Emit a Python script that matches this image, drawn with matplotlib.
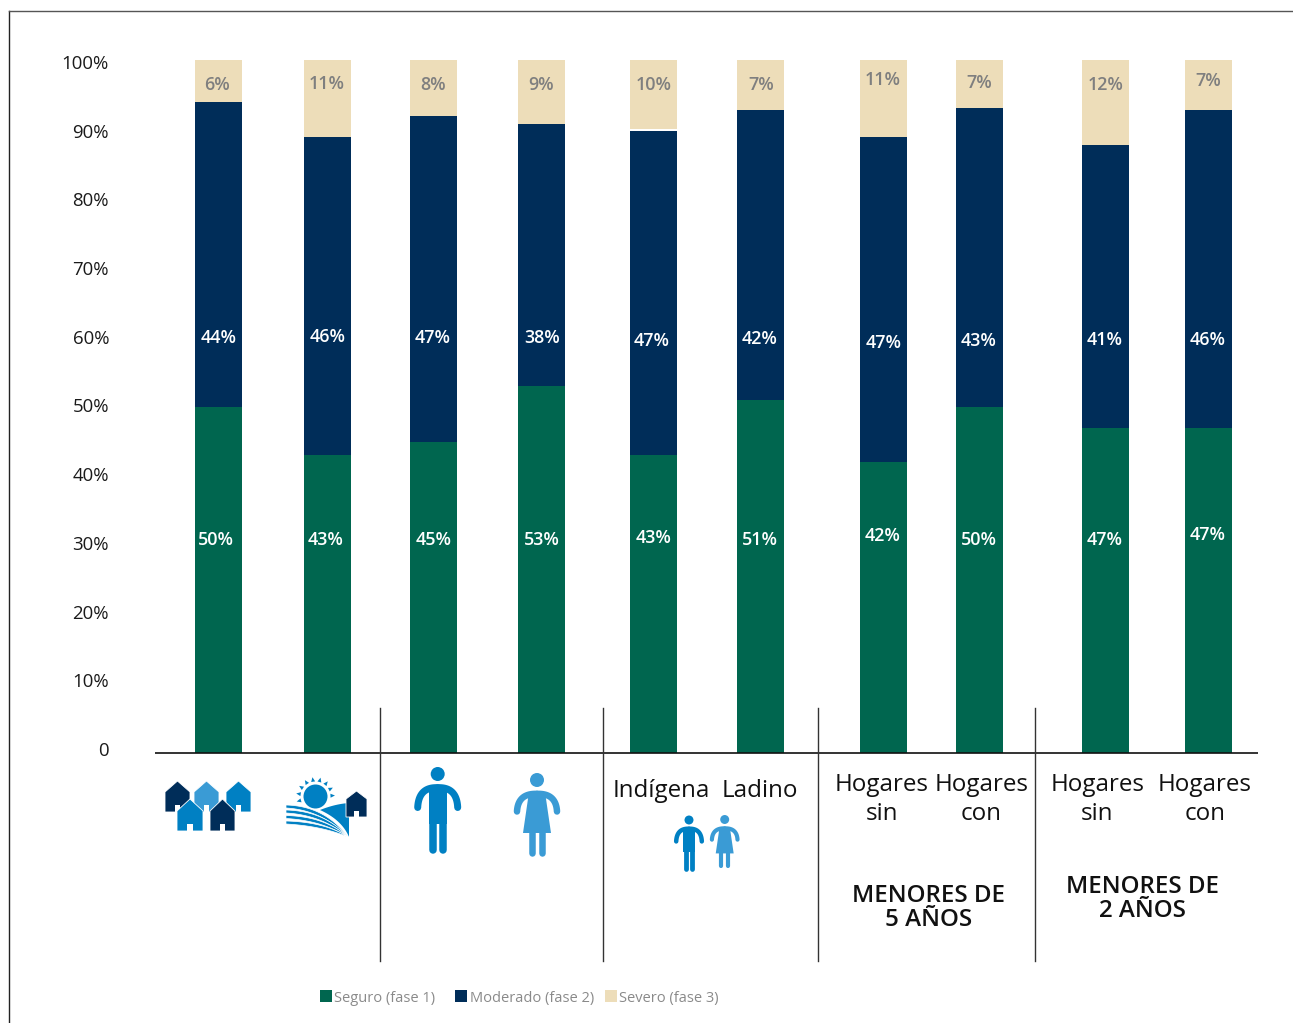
import numpy as np
import matplotlib
matplotlib.use("Agg")
import matplotlib.pyplot as plt
from matplotlib.patches import Polygon, Circle, Rectangle

plt.rcParams['font.family'] = ['Open Sans', 'DejaVu Sans']

# ---- data ----
seguro = [49.9, 43.0, 44.9, 53.0, 43.0, 50.9, 42.0, 49.9, 46.9, 46.9]
moderado = [44.0, 45.9, 47.0, 37.8, 46.7, 41.9, 46.9, 43.2, 40.8, 45.9]
severo = [6.1, 11.1, 8.1, 9.2, 10.0, 7.2, 11.1, 6.9, 12.3, 7.2]
series_names = ['Seguro (fase 1)', 'Moderado (fase 2)', 'Severo (fase 3)']
y_labels = ['0', '10%', '20%', '30%', '40%', '50%', '60%', '70%', '80%', '90%', '100%']

# ---- layout ----
W, H = 1293, 1023
GREEN, NAVY, TAN = '#00664F', '#002D59', '#EDDDB9'
BLUE, LIGHT = '#0080C3', '#3A9BD5'
bar_x = np.array([218.5, 327.5, 433.5, 541.5, 653.5, 760.5, 883.5, 979.5, 1105.5, 1208.5])
seguro_y = [539, 539, 539, 539, 537, 539, 535, 539, 539, 534]
moderado_y = [337, 336, 337, 337, 340, 338, 342, 340, 339, 339]
severo_y = [84, 83, 84, 84, 84, 84, 79, 82, 84, 80]
seguro_x = [215.5, 326, 433.5, 542, 654, 760, 883, 979, 1105, 1208]
moderado_x = [219, 327.5, 432.5, 542, 652, 759.5, 884, 979, 1105, 1208]
severo_x = [217, 326.5, 433, 541.5, 653.5, 761, 883, 979, 1105.5, 1208.5]
TXT = 2  # vertical text nudge, pixels

fig = plt.figure(figsize=(W / 100, H / 100), dpi=100, facecolor='white')
L, R, T, B = 155, 1258, 60, 753
ax = fig.add_axes([L / W, 1 - B / H, (R - L) / W, (B - T) / H])
ax.set_xlim(L, R)
ax.set_ylim(0, 100)
s, m, v = np.array(seguro), np.array(moderado), np.array(severo)
ax.bar(bar_x, s, width=47, color=GREEN)
ax.bar(bar_x, m, width=47, bottom=s, color=NAVY)
ax.bar(bar_x, v, width=47, bottom=100 - v, color=TAN)
for side in ['top', 'left', 'right']:
    ax.spines[side].set_visible(False)
ax.spines['bottom'].set_linewidth(1.2)
ax.spines['bottom'].set_color('#111111')
ax.spines['bottom'].set_capstyle('butt')
ax.set_xticks([])
ax.set_yticks([])

# overlay in pixel coordinates
ov = fig.add_axes([0, 0, 1, 1], zorder=5)
ov.set_xlim(0, W)
ov.set_ylim(H, 0)
ov.axis('off')
ov.patch.set_alpha(0)

# frame and separators
ov.plot([9, 9], [11, H], color='#222222', lw=1)
ov.plot([9, W], [11, 11], color='#555555', lw=1)
for x in [380, 603, 817.5, 1035]:
    ov.plot([x, x], [708, 961], color='#333333', lw=1)

# y labels
for i, lab in enumerate(y_labels):
    ov.text(109, 749 + TXT - i * 68.7, lab, ha='right', va='center', fontsize=13.4, color='#1a1a1a')

# value labels
for i in range(len(seguro)):
    ov.text(seguro_x[i], seguro_y[i] + 1, f'{round(seguro[i])}%', ha='center', va='center',
            color='white', fontsize=12.9, fontweight='semibold')
    ov.text(moderado_x[i], moderado_y[i] + 1, f'{round(moderado[i])}%', ha='center', va='center',
            color='white', fontsize=12.9, fontweight='semibold')
    ov.text(severo_x[i], severo_y[i] + 1, f'{round(severo[i])}%', ha='center', va='center',
            color='#7f7f7f', fontsize=12.9, fontweight='semibold')

# category text
for x, y, t in [(661, 789, 'Indígena'), (759.5, 789, 'Ladino'),
                (882, 783, 'Hogares'), (882, 812, 'sin'),
                (981.5, 783, 'Hogares'), (981.5, 812, 'con'),
                (1097.5, 783, 'Hogares'), (1097, 812, 'sin'),
                (1205, 783, 'Hogares'), (1205, 812, 'con')]:
    ov.text(x, y + TXT, t, ha='center', va='center', fontsize=17.4, color='#111111')
for x, y, t in [(929, 893, 'MENORES DE'), (929, 917, '5 AÑOS'),
                (1142, 884, 'MENORES DE'), (1142, 908, '2 AÑOS')]:
    ov.text(x, y + 3, t, ha='center', va='center', fontsize=17.4, fontweight='semibold', color='#111111')

# legend
for x, tx, c, n in [(320, 334.5, GREEN, series_names[0]), (455, 469.5, NAVY, series_names[1]),
                    (605, 619, TAN, series_names[2])]:
    ov.add_patch(Rectangle((x, 990), 12, 12, color=c, lw=0))
    ov.text(tx, 996.5 + TXT, n, ha='left', va='center', fontsize=10.5, color='#8a8a8a')


# icons
def house(x0, x1, top, eave, bottom, color, z=6):
    cx = (x0 + x1) / 2
    ov.add_patch(Polygon([(x0, bottom), (x0, eave), (cx, top), (x1, eave), (x1, bottom)],
                         closed=True, fc=color, ec='white', lw=0.6, zorder=z))
    dw = (x1 - x0) * 0.115
    dh = (bottom - top) * 0.23
    ov.add_patch(Rectangle((cx - dw, bottom - dh), 2 * dw, dh + 0.5, fc='white', lw=0, zorder=z))


house(165, 190, 781, 792, 812, NAVY, 6)
house(194, 219, 781, 792, 812, LIGHT, 6)
house(226, 251, 781, 792, 812, BLUE, 6)
house(177, 203, 799, 811, 831, BLUE, 7)
house(210, 235, 799, 811, 831, NAVY, 7)


def bez(p0, p1, p2, n=40):
    t = np.linspace(0, 1, n)[:, None]
    p0, p1, p2 = map(np.array, (p0, p1, p2))
    return (1 - t) ** 2 * p0 + 2 * t * (1 - t) * p1 + t ** 2 * p2


# sun
ov.add_patch(Circle((315.5, 796.5), 12, fc=BLUE, lw=0, zorder=6))
for a in np.arange(-195, 20, 24.0):
    r = np.deg2rad(a)
    d = np.array([np.cos(r), np.sin(r)])
    n_ = np.array([-d[1], d[0]])
    c0 = np.array([315.5, 796.5])
    ov.add_patch(Polygon([c0 + d * 19.5, c0 + d * 15 + n_ * 2, c0 + d * 15 - n_ * 2],
                         closed=True, fc=BLUE, lw=0, zorder=6))
# field
top_edge = bez((320, 810), (335, 804), (349, 803))
low_edge = bez((349, 837), (342, 820), (320, 810))
ov.add_patch(Polygon(np.vstack([top_edge, low_edge]), closed=True, fc=BLUE, lw=0, zorder=6))
for y0, y1 in [(805, 808), (810, 813), (815.5, 818.5), (821, 824)]:
    up = bez((286, y0), (325, y0 + 1), (348, 837))
    lo = bez((348, 837), (322, y1 + 2), (286, y1))
    ov.add_patch(Polygon(np.vstack([up, lo]), closed=True, fc=BLUE, ec='white', lw=0.5, zorder=7))
house(346, 367, 791, 799, 817, NAVY, 8)


def round_line(pts, lw, color, z=6):
    pts = np.asarray(pts)
    ov.plot(pts[:, 0], pts[:, 1], color=color, lw=lw * 0.72, solid_capstyle='round',
            solid_joinstyle='round', zorder=z)


def arms(cx, top, dx, dy, lw, color):
    # a single round arch over the shoulders
    round_line(bez((cx - dx, top + dy), (cx - dx * 0.95, top - 0.15 * dy), (cx, top - 0.1 * dy)), lw, color)
    round_line(bez((cx + dx, top + dy), (cx + dx * 0.95, top - 0.15 * dy), (cx, top - 0.1 * dy)), lw, color)


def man(cx, head_y, k, color):
    ov.add_patch(Circle((cx, head_y), 7 * k, fc=color, lw=0, zorder=6))
    arms(cx, head_y + 15.5 * k, 20 * k, 18 * k, 7 * k, color)
    ov.add_patch(Rectangle((cx - 9 * k, head_y + 12 * k), 18 * k, 38 * k, fc=color, lw=0, zorder=6))
    round_line([(cx - 5.2 * k, head_y + 48 * k), (cx - 5.2 * k, head_y + 76 * k)], 7.5 * k, color)
    round_line([(cx + 5.2 * k, head_y + 48 * k), (cx + 5.2 * k, head_y + 76 * k)], 7.5 * k, color)


def woman(cx, head_y, k, color):
    ov.add_patch(Circle((cx, head_y), 7 * k, fc=color, lw=0, zorder=6))
    arms(cx, head_y + 15.5 * k, 20 * k, 16 * k, 6.5 * k, color)
    ov.add_patch(Polygon([(cx - 8 * k, head_y + 12 * k), (cx + 8 * k, head_y + 12 * k),
                          (cx + 14 * k, head_y + 53 * k), (cx - 14 * k, head_y + 53 * k)],
                         closed=True, fc=color, lw=0, zorder=6))
    round_line([(cx - 5.2 * k, head_y + 50 * k), (cx - 5.2 * k, head_y + 73 * k)], 6.5 * k, color)
    round_line([(cx + 5.2 * k, head_y + 50 * k), (cx + 5.2 * k, head_y + 73 * k)], 6.5 * k, color)


man(437.7, 774, 1, BLUE)
woman(537, 780, 1, LIGHT)
man(689, 820, 0.64, BLUE)
woman(724.7, 819.5, 0.64, LIGHT)

fig.savefig('out.png', dpi=100, facecolor='white')
